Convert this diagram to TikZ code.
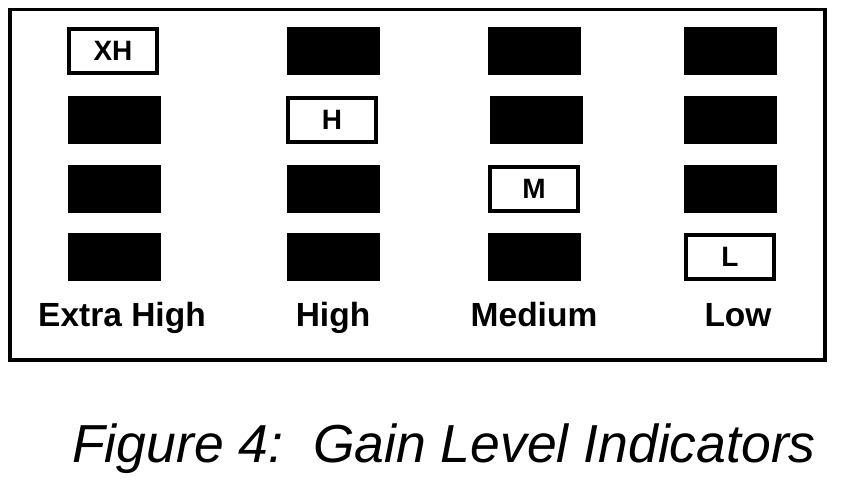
\documentclass[tikz,border=0pt]{standalone}
\usepackage{fontspec}
\setmainfont{Liberation Sans}
\begin{document}
\begin{tikzpicture}[x=1pt,y=-1pt,
  offbox/.style={fill=black,draw=none,minimum width=93pt,minimum height=48pt,inner sep=0pt},
  onbox/.style={fill=white,draw=black,line width=4pt,minimum width=88pt,minimum height=44pt,inner sep=0pt,font=\fontsize{28}{28}\selectfont\bfseries},
  levellabel/.style={anchor=base,inner sep=0pt,font=\fontsize{33.5}{33.5}\selectfont\bfseries}]
\useasboundingbox (0,0) rectangle (842,480);
\draw[line width=3.5pt] (10,9.5) rectangle (825,360);
% column 1 (Extra High)
\node[onbox]  (c1r1) at (113,51) {XH};
\node[offbox] (c1r2) at (114,120) {};
\node[offbox] (c1r3) at (114,189) {};
\node[offbox] (c1r4) at (114,257) {};
% column 2 (High)
\node[offbox] (c2r1) at (333,51) {};
\node[onbox]  (c2r2) at (332,120) {H};
\node[offbox] (c2r3) at (333,189) {};
\node[offbox] (c2r4) at (333,257) {};
% column 3 (Medium)
\node[offbox] (c3r1) at (534,51) {};
\node[offbox] (c3r2) at (536,120) {};
\node[onbox]  (c3r3) at (534,189) {M};
\node[offbox] (c3r4) at (534,257) {};
% column 4 (Low)
\node[offbox] (c4r1) at (730,51) {};
\node[offbox] (c4r2) at (730,120) {};
\node[offbox] (c4r3) at (730,189) {};
\node[onbox]  (c4r4) at (730,257) {L};
% labels
\node[levellabel] (l1) at (122,326) {Extra High};
\node[levellabel] (l2) at (333,326) {High};
\node[levellabel] (l3) at (534,326) {Medium};
\node[levellabel] (l4) at (738,326) {Low};
% caption
\node[anchor=base,inner sep=0pt,font=\fontsize{53.5}{53.5}\selectfont\itshape] (cap) at (444,462) {Figure 4:\ \ Gain Level Indicators};
\end{tikzpicture}
\end{document}
